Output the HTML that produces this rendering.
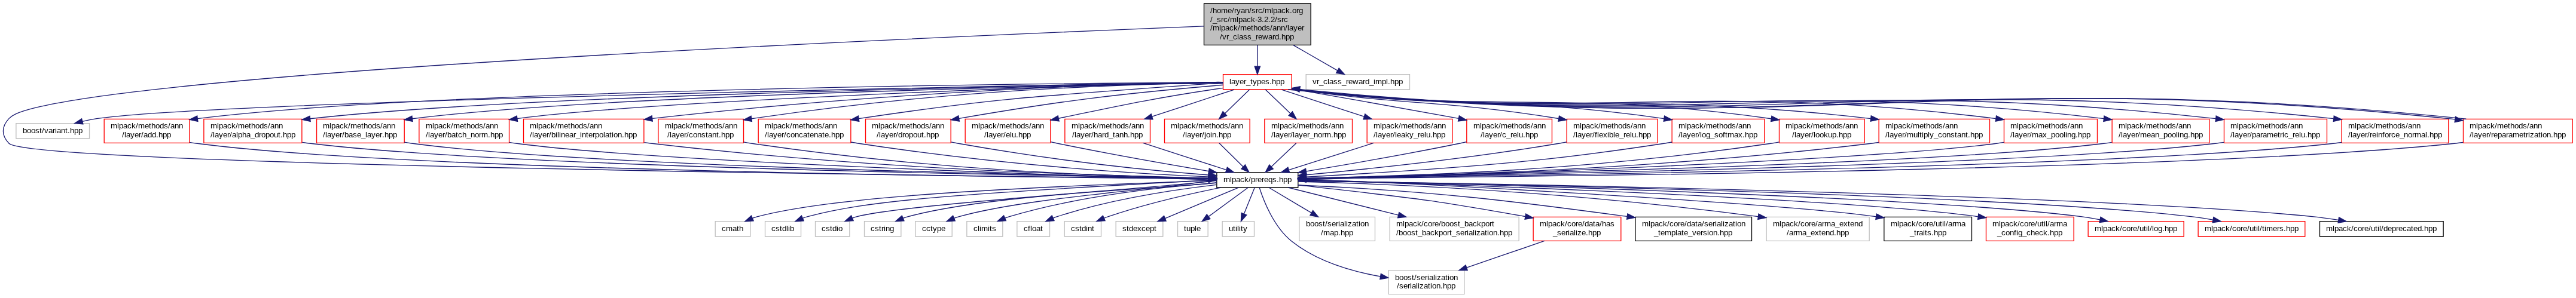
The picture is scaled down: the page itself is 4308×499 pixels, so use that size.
<!DOCTYPE html>
<html><head><meta charset="utf-8"><title>vr_class_reward.hpp include graph</title>
<style>
html,body{margin:0;padding:0;background:#fff;width:4308px;height:499px;overflow:hidden}
svg{display:block;position:absolute;left:0;top:0;will-change:transform}
text{font-family:"Liberation Sans",sans-serif;font-size:10px;fill:#000}
</style></head><body>
<svg width="4307.5" height="498.667" viewBox="0.00 0.00 3230.63 374.00">
<g transform="scale(1 1) rotate(0) translate(4 370)">
<polygon fill="white" stroke="transparent" points="-4,4 -4,-370 3226.63,-370 3226.63,4 -4,4"/>
<polygon fill="#bfbfbf" stroke="black" points="1506.13,-313.5 1506.13,-365.5 1640.13,-365.5 1640.13,-313.5 1506.13,-313.5"/>
<text x="1514.000 1517.000 1522.250 1527.500 1535.750 1541.000 1544.000 1547.000 1552.250 1557.500 1562.750 1565.750 1571.000 1574.000 1579.250 1582.250 1590.500 1592.750 1598.000 1603.250 1608.500 1613.750 1616.750 1622.000 1625.000" y="-353.50">/home/ryan/src/mlpack.org</text>
<text x="1514.000 1517.000 1522.250 1527.500 1530.500 1535.750 1538.750 1547.000 1549.250 1554.500 1559.750 1565.000 1570.250 1573.250 1578.500 1581.500 1586.750 1589.750 1595.000 1598.000 1603.250 1606.250" y="-342.25">/_src/mlpack-3.2.2/src</text>
<text x="1514.000 1517.000 1525.250 1527.500 1532.750 1538.000 1543.250 1548.500 1551.500 1559.750 1565.000 1568.000 1573.250 1578.500 1583.750 1589.000 1592.000 1597.250 1602.500 1607.750 1610.750 1613.000 1618.250 1623.500 1628.750" y="-331.75">/mlpack/methods/ann/layer</text>
<text x="1526.000 1529.000 1534.250 1537.250 1542.500 1547.750 1550.000 1555.250 1560.500 1565.750 1571.000 1574.000 1579.250 1586.750 1592.000 1595.000 1600.250 1603.250 1608.500 1613.750" y="-320.50">/vr_class_reward.hpp</text>
<polygon fill="white" stroke="black" points="1522.13,-134.5 1522.13,-153.5 1624.13,-153.5 1624.13,-134.5 1522.13,-134.5"/>
<text x="1530.500 1538.750 1541.000 1546.250 1551.500 1556.750 1562.000 1565.000 1570.250 1573.250 1578.500 1581.500 1586.750 1592.000 1597.250 1600.250 1605.500 1610.750" y="-141.25">mlpack/prereqs.hpp</text>
<path fill="none" stroke="midnightblue" d="M1505.96,-337.13C48.9,-277.84 15.43,-229.95 7.13,-221 -2.24,-210.9 -2.47,-199.88 7.13,-190 33.81,-162.54 1225.58,-148.57 1511.8,-145.6"/>
<polygon fill="midnightblue" stroke="midnightblue" points="1512.03,-149.1 1521.99,-145.5 1511.96,-142.1 1512.03,-149.1"/>
<polygon fill="white" stroke="red" points="1530.13,-257.5 1530.13,-276.5 1616.13,-276.5 1616.13,-257.5 1530.13,-257.5"/>
<text x="1538.000 1540.250 1545.500 1550.750 1556.000 1559.000 1564.250 1567.250 1572.500 1577.750 1583.000 1588.250 1591.250 1596.500 1601.750" y="-264.25">layer_types.hpp</text>
<path fill="none" stroke="midnightblue" d="M1573.13,-313.45C1573.13,-304.73 1573.13,-295.1 1573.13,-286.96"/>
<polygon fill="midnightblue" stroke="midnightblue" points="1576.63,-286.7 1573.13,-276.7 1569.63,-286.7 1576.63,-286.7"/>
<polygon fill="white" stroke="#bfbfbf" points="1634.13,-257.5 1634.13,-276.5 1764.13,-276.5 1764.13,-257.5 1634.13,-257.5"/>
<text x="1642.250 1647.500 1650.500 1655.750 1661.000 1663.250 1668.500 1673.750 1679.000 1684.250 1687.250 1692.500 1700.000 1705.250 1708.250 1713.500 1718.750 1721.000 1729.250 1734.500 1736.750 1739.750 1745.000 1750.250" y="-264.25">vr_class_reward_impl.hpp</text>
<path fill="none" stroke="midnightblue" d="M1617.91,-313.45C1636.68,-302.66 1657.95,-290.48 1673.59,-281.45"/>
<polygon fill="midnightblue" stroke="midnightblue" points="1675.37,-284.46 1682.39,-276.53 1671.95,-278.36 1675.37,-284.46"/>
<polygon fill="white" stroke="#bfbfbf" points="893.13,-73 893.13,-92 937.13,-92 937.13,-73 893.13,-73"/>
<text x="901.250 906.500 914.750 920.000 923.000" y="-79.75">cmath</text>
<path fill="none" stroke="midnightblue" d="M1522.10,-143.39C1181.30,-131.78 1025.21,-118.77 946.13,-98.00 944.15,-97.48 942.13,-96.84 940.14,-96.12"/>
<polygon fill="midnightblue" stroke="midnightblue" points="941.06,-92.71 930.48,-92.03 938.33,-99.16 941.06,-92.71"/>
<polygon fill="white" stroke="#bfbfbf" points="955.63,-73 955.63,-92 1000.63,-92 1000.63,-73 955.63,-73"/>
<text x="963.500 968.750 974.000 977.000 982.250 984.500 986.750" y="-79.75">cstdlib</text>
<path fill="none" stroke="midnightblue" d="M1522.10,-144.25C1174.21,-125.39 1084.55,-117.81 1009.13,-98.00 1007.15,-97.48 1005.14,-96.83 1003.14,-96.10"/>
<polygon fill="midnightblue" stroke="midnightblue" points="1004.06,-92.69 993.49,-92.01 1001.33,-99.14 1004.06,-92.69"/>
<polygon fill="white" stroke="#bfbfbf" points="1018.63,-73 1018.63,-92 1061.63,-92 1061.63,-73 1018.63,-73"/>
<text x="1026.500 1031.750 1037.000 1040.000 1045.250 1047.500" y="-79.75">cstdio</text>
<path fill="none" stroke="midnightblue" d="M1522.10,-143.10C1448.99,-133.85 1129.48,-113.64 1071.13,-98.00 1069.19,-97.48 1067.23,-96.84 1065.28,-96.13"/>
<polygon fill="midnightblue" stroke="midnightblue" points="1066.39,-92.8 1055.82,-92.13 1063.66,-99.25 1066.39,-92.8"/>
<polygon fill="white" stroke="#bfbfbf" points="1080.13,-73 1080.13,-92 1126.13,-92 1126.13,-73 1080.13,-73"/>
<text x="1088.000 1093.250 1098.500 1101.500 1104.500 1106.750 1112.000" y="-79.75">cstring</text>
<path fill="none" stroke="midnightblue" d="M1522.10,-140.80C1469.80,-133.27 1244.31,-127.45 1135.13,-98.00 1132.98,-97.42 1130.79,-96.71 1128.61,-95.91"/>
<polygon fill="midnightblue" stroke="midnightblue" points="1129.94,-92.68 1119.36,-92.08 1127.26,-99.14 1129.94,-92.68"/>
<polygon fill="white" stroke="#bfbfbf" points="1144.13,-73 1144.13,-92 1190.13,-92 1190.13,-73 1144.13,-73"/>
<text x="1152.500 1157.750 1163.000 1166.000 1171.250 1176.500" y="-79.75">cctype</text>
<path fill="none" stroke="midnightblue" d="M1522.10,-144.25C1462.13,-132.70 1288.08,-122.82 1199.13,-98.00 1196.98,-97.40 1194.79,-96.67 1192.62,-95.87"/>
<polygon fill="midnightblue" stroke="midnightblue" points="1193.95,-92.64 1183.38,-92.02 1191.26,-99.1 1193.95,-92.64"/>
<polygon fill="white" stroke="#bfbfbf" points="1208.63,-73 1208.63,-92 1253.63,-92 1253.63,-73 1208.63,-73"/>
<text x="1217.000 1222.250 1224.500 1226.750 1235.000 1237.250 1240.250" y="-79.75">climits</text>
<path fill="none" stroke="midnightblue" d="M1522.05,-140.21C1459.61,-135.76 1351.25,-124.65 1262.13,-98 1260.25,-97.44 1258.34,-96.78 1256.44,-96.06"/>
<polygon fill="midnightblue" stroke="midnightblue" points="1257.76,-92.82 1247.19,-92.1 1255,-99.25 1257.76,-92.82"/>
<polygon fill="white" stroke="#bfbfbf" points="1271.63,-73 1271.63,-92 1312.63,-92 1312.63,-73 1271.63,-73"/>
<text x="1280.000 1285.250 1288.250 1290.500 1295.750 1301.000" y="-79.75">cfloat</text>
<path fill="none" stroke="midnightblue" d="M1521.65,-137.93C1470.2,-131.9 1389.29,-119.8 1322.13,-98 1320.46,-97.46 1318.77,-96.84 1317.09,-96.18"/>
<polygon fill="midnightblue" stroke="midnightblue" points="1318.24,-92.86 1307.68,-92.01 1315.4,-99.26 1318.24,-92.86"/>
<polygon fill="white" stroke="#bfbfbf" points="1331.13,-73 1331.13,-92 1377.13,-92 1377.13,-73 1331.13,-73"/>
<text x="1339.250 1344.500 1349.750 1352.750 1358.000 1360.250 1365.500" y="-79.75">cstdint</text>
<path fill="none" stroke="midnightblue" d="M1527.09,-134.46C1488.81,-126.75 1433.19,-114.16 1386.13,-98 1384.46,-97.43 1382.77,-96.8 1381.07,-96.14"/>
<polygon fill="midnightblue" stroke="midnightblue" points="1382.07,-92.76 1371.49,-92.09 1379.34,-99.21 1382.07,-92.76"/>
<polygon fill="white" stroke="#bfbfbf" points="1395.63,-73 1395.63,-92 1454.63,-92 1454.63,-73 1395.63,-73"/>
<text x="1403.750 1409.000 1412.000 1417.250 1422.500 1427.750 1433.000 1438.250 1443.500" y="-79.75">stdexcept</text>
<path fill="none" stroke="midnightblue" d="M1549.42,-134.48C1518.80,-121.60 1488.17,-108.73 1457.55,-95.85"/>
<polygon fill="midnightblue" stroke="midnightblue" points="1458.58,-92.49 1447.99,-92.01 1455.97,-98.99 1458.58,-92.49"/>
<polygon fill="white" stroke="#bfbfbf" points="1473.13,-73 1473.13,-92 1511.13,-92 1511.13,-73 1473.13,-73"/>
<text x="1481.000 1484.000 1489.250 1494.500 1496.750" y="-79.75">tuple</text>
<path fill="none" stroke="midnightblue" d="M1561.52,-134.48C1548.65,-125.02 1527.65,-109.6 1512.12,-98.19"/>
<polygon fill="midnightblue" stroke="midnightblue" points="1513.84,-95.11 1503.71,-92.01 1509.7,-100.75 1513.84,-95.11"/>
<polygon fill="white" stroke="#bfbfbf" points="1529.13,-73 1529.13,-92 1569.13,-92 1569.13,-73 1529.13,-73"/>
<text x="1537.250 1542.500 1545.500 1547.750 1550.000 1552.250 1555.250" y="-79.75">utility</text>
<path fill="none" stroke="midnightblue" d="M1569.69,-134.48C1566.23,-125.9 1560.8,-112.43 1556.38,-101.48"/>
<polygon fill="midnightblue" stroke="midnightblue" points="1559.55,-99.97 1552.56,-92.01 1553.06,-102.59 1559.55,-99.97"/>
<polygon fill="white" stroke="#bfbfbf" points="1737.63,-0.5 1737.63,-30.5 1832.63,-30.5 1832.63,-0.5 1737.63,-0.5"/>
<text x="1745.750 1751.000 1756.250 1761.500 1766.750 1769.750 1772.750 1778.000 1783.250 1786.250 1788.500 1793.750 1796.000 1798.250 1803.500 1808.750 1811.750 1814.000 1819.250" y="-18.25">boost/serialization</text>
<text x="1748.000 1751.000 1756.250 1761.500 1764.500 1766.750 1772.000 1774.250 1776.500 1781.750 1787.000 1790.000 1792.250 1797.500 1802.750 1805.750 1811.000 1816.250" y="-7.75">/serialization.hpp</text>
<path fill="none" stroke="midnightblue" d="M1575.66,-134.28C1580.7,-118.47 1593.49,-85.05 1616.13,-67 1647.84,-41.72 1691.96,-29.08 1727.17,-22.77"/>
<polygon fill="midnightblue" stroke="midnightblue" points="1728.03,-26.17 1737.32,-21.08 1726.88,-19.27 1728.03,-26.17"/>
<polygon fill="white" stroke="#bfbfbf" points="1625.63,-67.5 1625.63,-97.5 1720.63,-97.5 1720.63,-67.5 1625.63,-67.5"/>
<text x="1634.000 1639.250 1644.500 1649.750 1655.000 1658.000 1661.000 1666.250 1671.500 1674.500 1676.750 1682.000 1684.250 1686.500 1691.750 1697.000 1700.000 1702.250 1707.500" y="-85.75">boost/serialization</text>
<text x="1652.750 1655.750 1664.000 1669.250 1674.500 1677.500 1682.750 1688.000" y="-74.50">/map.hpp</text>
<path fill="none" stroke="midnightblue" d="M1587.46,-134.48C1601.25,-126.27 1622.61,-113.56 1640.55,-102.88"/>
<polygon fill="midnightblue" stroke="midnightblue" points="1642.76,-105.64 1649.56,-97.52 1639.18,-99.63 1642.76,-105.64"/>
<polygon fill="white" stroke="#bfbfbf" points="1739.13,-67.5 1739.13,-97.5 1901.13,-97.5 1901.13,-67.5 1739.13,-67.5"/>
<text x="1747.250 1755.500 1757.750 1763.000 1768.250 1773.500 1778.750 1781.750 1787.000 1792.250 1795.250 1800.500 1803.500 1808.750 1814.000 1819.250 1824.500 1827.500 1832.750 1838.000 1843.250 1848.500 1853.750 1859.000 1864.250 1867.250" y="-85.75">mlpack/core/boost_backport</text>
<text x="1747.250 1750.250 1755.500 1760.750 1766.000 1771.250 1774.250 1779.500 1784.750 1790.000 1795.250 1800.500 1805.750 1811.000 1814.000 1817.000 1822.250 1827.500 1832.750 1835.750 1838.000 1843.250 1845.500 1847.750 1853.000 1858.250 1861.250 1863.500 1868.750 1874.000 1877.000 1882.250 1887.500" y="-74.50">/boost_backport_serialization.hpp</text>
<path fill="none" stroke="midnightblue" d="M1611.73,-134.50C1657.73,-122.98 1703.73,-111.45 1749.74,-99.93"/>
<polygon fill="midnightblue" stroke="midnightblue" points="1750.84,-103.27 1759.75,-97.52 1749.19,-96.46 1750.84,-103.27"/>
<polygon fill="white" stroke="red" points="1919.13,-67.5 1919.13,-97.5 2029.13,-97.5 2029.13,-67.5 1919.13,-67.5"/>
<text x="1927.250 1935.500 1937.750 1943.000 1948.250 1953.500 1958.750 1961.750 1967.000 1972.250 1975.250 1980.500 1983.500 1988.750 1994.000 1997.000 2002.250 2005.250 2010.500 2015.750" y="-85.75">mlpack/core/data/has</text>
<text x="1943.750 1949.000 1954.250 1959.500 1962.500 1964.750 1970.000 1972.250 1974.500 1979.750 1985.000 1988.000 1993.250 1998.500" y="-74.50">_serialize.hpp</text>
<path fill="none" stroke="midnightblue" d="M1624.25,-137.53C1789.73,-119.21 1798.84,-117.56 1909.05,-98.10"/>
<polygon fill="midnightblue" stroke="midnightblue" points="1909.81,-101.52 1919.04,-96.31 1908.58,-94.62 1909.81,-101.52"/>
<polygon fill="white" stroke="black" points="2047.13,-67.5 2047.13,-97.5 2193.13,-97.5 2193.13,-67.5 2047.13,-67.5"/>
<text x="2055.500 2063.750 2066.000 2071.250 2076.500 2081.750 2087.000 2090.000 2095.250 2100.500 2103.500 2108.750 2111.750 2117.000 2122.250 2125.250 2130.500 2133.500 2138.750 2144.000 2147.000 2149.250 2154.500 2156.750 2159.000 2164.250 2169.500 2172.500 2174.750 2180.000" y="-85.75">mlpack/core/data/serialization</text>
<text x="2070.500 2075.750 2078.750 2084.000 2092.250 2097.500 2099.750 2105.000 2108.000 2113.250 2118.500 2123.750 2129.000 2132.000 2137.250 2139.500 2144.750 2150.000 2153.000 2158.250 2163.500" y="-74.50">_template_version.hpp</text>
<path fill="none" stroke="midnightblue" d="M1624.25,-137.50C1802.64,-129.90 1909.58,-115.20 2036.61,-98.14"/>
<polygon fill="midnightblue" stroke="midnightblue" points="2037.42,-101.56 2046.86,-96.75 2036.48,-94.63 2037.42,-101.56"/>
<polygon fill="white" stroke="#bfbfbf" points="2211.63,-67.5 2211.63,-97.5 2340.63,-97.5 2340.63,-67.5 2211.63,-67.5"/>
<text x="2219.750 2228.000 2230.250 2235.500 2240.750 2246.000 2251.250 2254.250 2259.500 2264.750 2267.750 2273.000 2276.000 2281.250 2284.250 2292.500 2297.750 2303.000 2308.250 2313.500 2316.500 2321.750 2327.000" y="-85.75">mlpack/core/arma_extend</text>
<text x="2237.000 2240.000 2245.250 2248.250 2256.500 2261.750 2267.000 2272.250 2277.500 2280.500 2285.750 2291.000 2296.250 2299.250 2304.500 2309.750" y="-74.50">/arma_extend.hpp</text>
<path fill="none" stroke="midnightblue" d="M1624.25,-141.98C1798.55,-137.37 1995.27,-124.91 2201.10,-98.02"/>
<polygon fill="midnightblue" stroke="midnightblue" points="2201.78,-101.46 2211.23,-96.68 2200.86,-94.52 2201.78,-101.46"/>
<polygon fill="white" stroke="black" points="2359.13,-67.5 2359.13,-97.5 2469.13,-97.5 2469.13,-67.5 2359.13,-67.5"/>
<text x="2367.500 2375.750 2378.000 2383.250 2388.500 2393.750 2399.000 2402.000 2407.250 2412.500 2415.500 2420.750 2423.750 2429.000 2432.000 2434.250 2436.500 2439.500 2444.750 2447.750 2456.000" y="-85.75">mlpack/core/util/arma</text>
<text x="2391.500 2396.750 2399.750 2402.750 2408.000 2410.250 2413.250 2418.500 2421.500 2426.750 2432.000" y="-74.50">_traits.hpp</text>
<path fill="none" stroke="midnightblue" d="M1624.25,-143.51C1626.01,-148.58 2215.86,-116.41 2348.78,-98.02"/>
<polygon fill="midnightblue" stroke="midnightblue" points="2349.66,-101.43 2359.08,-96.58 2348.69,-94.5 2349.66,-101.43"/>
<polygon fill="white" stroke="red" points="2487.13,-67.5 2487.13,-97.5 2597.13,-97.5 2597.13,-67.5 2487.13,-67.5"/>
<text x="2495.000 2503.250 2505.500 2510.750 2516.000 2521.250 2526.500 2529.500 2534.750 2540.000 2543.000 2548.250 2551.250 2556.500 2559.500 2561.750 2564.000 2567.000 2572.250 2575.250 2583.500" y="-85.75">mlpack/core/util/arma</text>
<text x="2501.000 2506.250 2511.500 2516.750 2522.000 2525.000 2527.250 2532.500 2537.750 2543.000 2548.250 2553.500 2558.750 2564.000 2567.000 2572.250 2577.500" y="-74.50">_config_check.hpp</text>
<path fill="none" stroke="midnightblue" d="M1624.25,-143.51C1668.52,-143.73 2285.42,-123.73 2476.86,-98.00"/>
<polygon fill="midnightblue" stroke="midnightblue" points="2477.64,-101.42 2487.08,-96.61 2476.7,-94.49 2477.64,-101.42"/>
<polygon fill="white" stroke="red" points="2615.13,-73 2615.13,-92 2735.13,-92 2735.13,-73 2615.13,-73"/>
<text x="2623.250 2631.500 2633.750 2639.000 2644.250 2649.500 2654.750 2657.750 2663.000 2668.250 2671.250 2676.500 2679.500 2684.750 2687.750 2690.000 2692.250 2695.250 2697.500 2702.750 2708.000 2711.000 2716.250 2721.500" y="-79.75">mlpack/core/util/log.hpp</text>
<path fill="none" stroke="midnightblue" d="M1624.25,-143.50C1820.10,-140.03 2406.54,-123.17 2606.13,-98.00 2613.90,-97.02 2622.10,-95.63 2630.02,-94.08"/>
<polygon fill="midnightblue" stroke="midnightblue" points="2630.76,-97.5 2639.86,-92.07 2629.36,-90.65 2630.76,-97.5"/>
<polygon fill="white" stroke="red" points="2753.13,-73 2753.13,-92 2887.13,-92 2887.13,-73 2753.13,-73"/>
<text x="2761.250 2769.500 2771.750 2777.000 2782.250 2787.500 2792.750 2795.750 2801.000 2806.250 2809.250 2814.500 2817.500 2822.750 2825.750 2828.000 2830.250 2833.250 2836.250 2838.500 2846.750 2852.000 2855.000 2860.250 2863.250 2868.500 2873.750" y="-79.75">mlpack/core/util/timers.hpp</text>
<path fill="none" stroke="midnightblue" d="M1624.25,-142.72C1806.10,-140.64 2495.87,-126.39 2744.13,-98.00 2753.05,-96.98 2762.49,-95.51 2771.58,-93.89"/>
<polygon fill="midnightblue" stroke="midnightblue" points="2772.45,-97.28 2781.64,-92.01 2771.16,-90.4 2772.45,-97.28"/>
<polygon fill="white" stroke="black" points="2905.63,-73 2905.63,-92 3060.63,-92 3060.63,-73 2905.63,-73"/>
<text x="2913.500 2921.750 2924.000 2929.250 2934.500 2939.750 2945.000 2948.000 2953.250 2958.500 2961.500 2966.750 2969.750 2975.000 2978.000 2980.250 2982.500 2985.500 2990.750 2996.000 3001.250 3004.250 3009.500 3014.750 3020.000 3023.000 3028.250 3033.500 3036.500 3041.750 3047.000" y="-79.75">mlpack/core/util/deprecated.hpp</text>
<path fill="none" stroke="midnightblue" d="M1624.25,-142.67C1815.19,-140.70 2610.12,-126.55 2896.13,-98.00 2906.75,-96.94 2918.04,-95.38 2928.85,-93.67"/>
<polygon fill="midnightblue" stroke="midnightblue" points="2929.72,-97.08 2939.02,-92 2928.59,-90.17 2929.72,-97.08"/>
<path fill="none" stroke="midnightblue" d="M1933.12,-67.4C1904.51,-57.56 1866.16,-44.37 1835.66,-33.88"/>
<polygon fill="midnightblue" stroke="midnightblue" points="1836.65,-30.52 1826.06,-30.58 1834.38,-37.14 1836.65,-30.52"/>
<polygon fill="white" stroke="#bfbfbf" points="16.13,-196 16.13,-215 108.13,-215 108.13,-196 16.13,-196"/>
<text x="24.500 29.750 35.000 40.250 45.500 48.500 51.500 56.750 62.000 65.000 67.250 72.500 77.750 80.750 83.750 89.000 94.250" y="-202.75">boost/variant.hpp</text>
<path fill="none" stroke="midnightblue" d="M1530.12,-266.68C1523.67,-267.63 281.89,-245.06 117.13,-221.00 111.31,-220.15 105.22,-218.92 99.30,-217.51"/>
<polygon fill="midnightblue" stroke="midnightblue" points="100.13,-214.12 89.57,-215.04 98.4,-220.9 100.13,-214.12"/>
<polygon fill="white" stroke="red" points="126.63,-190.5 126.63,-220.5 233.63,-220.5 233.63,-190.5 126.63,-190.5"/>
<text x="134.750 143.000 145.250 150.500 155.750 161.000 166.250 169.250 177.500 182.750 185.750 191.000 196.250 201.500 206.750 209.750 215.000 220.250" y="-208.75">mlpack/methods/ann</text>
<text x="149.000 152.000 154.250 159.500 164.750 170.000 173.000 176.000 181.250 186.500 191.750 194.750 200.000 205.250" y="-197.50">/layer/add.hpp</text>
<path fill="none" stroke="midnightblue" d="M1530.12,-266.67C1285.90,-265.20 534.65,-257.18 243.77,-221.01"/>
<polygon fill="midnightblue" stroke="midnightblue" points="244.14,-217.53 233.78,-219.73 243.25,-224.47 244.14,-217.53"/>
<polygon fill="white" stroke="red" points="251.63,-190.5 251.63,-220.5 374.63,-220.5 374.63,-190.5 251.63,-190.5"/>
<text x="260.000 268.250 270.500 275.750 281.000 286.250 291.500 294.500 302.750 308.000 311.000 316.250 321.500 326.750 332.000 335.000 340.250 345.500" y="-208.75">mlpack/methods/ann</text>
<text x="260.000 263.000 265.250 270.500 275.750 281.000 284.000 287.000 292.250 294.500 299.750 305.000 310.250 315.500 320.750 323.750 329.000 334.250 339.500 344.750 347.750 350.750 356.000 361.250" y="-197.50">/layer/alpha_dropout.hpp</text>
<path fill="none" stroke="midnightblue" d="M1530.12,-266.69C1199.97,-260.33 637.09,-249.36 385.01,-220.92"/>
<polygon fill="midnightblue" stroke="midnightblue" points="385.33,-217.44 374.99,-219.75 384.51,-224.39 385.33,-217.44"/>
<polygon fill="white" stroke="red" points="393.13,-190.5 393.13,-220.5 503.13,-220.5 503.13,-190.5 393.13,-190.5"/>
<text x="401.000 409.250 411.500 416.750 422.000 427.250 432.500 435.500 443.750 449.000 452.000 457.250 462.500 467.750 473.000 476.000 481.250 486.500" y="-208.75">mlpack/methods/ann</text>
<text x="401.000 404.000 406.250 411.500 416.750 422.000 425.000 428.000 433.250 438.500 443.750 449.000 454.250 456.500 461.750 467.000 472.250 475.250 478.250 483.500 488.750" y="-197.50">/layer/base_layer.hpp</text>
<path fill="none" stroke="midnightblue" d="M1530.12,-266.68C1214.83,-259.36 736.50,-248.67 513.37,-220.95"/>
<polygon fill="midnightblue" stroke="midnightblue" points="513.54,-217.44 503.17,-219.63 512.64,-224.38 513.54,-217.44"/>
<polygon fill="white" stroke="red" points="521.63,-190.5 521.63,-220.5 634.63,-220.5 634.63,-190.5 521.63,-190.5"/>
<text x="530.000 538.250 540.500 545.750 551.000 556.250 561.500 564.500 572.750 578.000 581.000 586.250 591.500 596.750 602.000 605.000 610.250 615.500" y="-208.75">mlpack/methods/ann</text>
<text x="530.000 533.000 535.250 540.500 545.750 551.000 554.000 557.000 562.250 567.500 570.500 575.750 581.000 586.250 591.500 596.750 599.750 608.000 611.000 616.250 621.500" y="-197.50">/layer/batch_norm.hpp</text>
<path fill="none" stroke="midnightblue" d="M1530.12,-266.66C1525.70,-268.97 840.37,-246.92 644.69,-221.06"/>
<polygon fill="midnightblue" stroke="midnightblue" points="645.12,-217.58 634.75,-219.73 644.19,-224.52 645.12,-217.58"/>
<polygon fill="white" stroke="red" points="652.63,-190.5 652.63,-220.5 803.63,-220.5 803.63,-190.5 652.63,-190.5"/>
<text x="660.500 668.750 671.000 676.250 681.500 686.750 692.000 695.000 703.250 708.500 711.500 716.750 722.000 727.250 732.500 735.500 740.750 746.000" y="-208.75">mlpack/methods/ann</text>
<text x="660.500 663.500 665.750 671.000 676.250 681.500 684.500 687.500 692.750 695.000 697.250 699.500 704.750 710.000 715.250 718.250 723.500 725.750 731.000 734.000 739.250 742.250 747.500 752.750 755.000 760.250 763.250 765.500 770.750 776.000 779.000 784.250 789.500" y="-197.50">/layer/bilinear_interpolation.hpp</text>
<path fill="none" stroke="midnightblue" d="M1530.12,-264.80C1387.13,-266.83 1082.94,-251.62 814.36,-221.18"/>
<polygon fill="midnightblue" stroke="midnightblue" points="814.41,-217.66 804.08,-220 813.62,-224.62 814.41,-217.66"/>
<polygon fill="white" stroke="red" points="821.63,-190.5 821.63,-220.5 928.63,-220.5 928.63,-190.5 821.63,-190.5"/>
<text x="830.000 838.250 840.500 845.750 851.000 856.250 861.500 864.500 872.750 878.000 881.000 886.250 891.500 896.750 902.000 905.000 910.250 915.500" y="-208.75">mlpack/methods/ann</text>
<text x="833.000 836.000 838.250 843.500 848.750 854.000 857.000 860.000 865.250 870.500 875.750 881.000 884.000 889.250 894.500 897.500 900.500 905.750 911.000" y="-197.50">/layer/constant.hpp</text>
<path fill="none" stroke="midnightblue" d="M1530.12,-266.65C1324.60,-261.72 1156.35,-252.77 938.78,-220.92"/>
<polygon fill="midnightblue" stroke="midnightblue" points="939.04,-217.42 928.64,-219.41 938.02,-224.34 939.04,-217.42"/>
<polygon fill="white" stroke="red" points="947.13,-190.5 947.13,-220.5 1063.13,-220.5 1063.13,-190.5 947.13,-190.5"/>
<text x="955.250 963.500 965.750 971.000 976.250 981.500 986.750 989.750 998.000 1003.250 1006.250 1011.500 1016.750 1022.000 1027.250 1030.250 1035.500 1040.750" y="-208.75">mlpack/methods/ann</text>
<text x="955.250 958.250 960.500 965.750 971.000 976.250 979.250 982.250 987.500 992.750 998.000 1003.250 1008.500 1011.500 1016.750 1022.000 1027.250 1030.250 1035.500 1038.500 1043.750 1049.000" y="-197.50">/layer/concatenate.hpp</text>
<path fill="none" stroke="midnightblue" d="M1530.12,-266.03C1267.13,-247.47 1228.24,-244.19 1073.05,-221.01"/>
<polygon fill="midnightblue" stroke="midnightblue" points="1073.56,-217.55 1063.15,-219.52 1072.52,-224.47 1073.56,-217.55"/>
<polygon fill="white" stroke="red" points="1081.63,-190.5 1081.63,-220.5 1188.63,-220.5 1188.63,-190.5 1081.63,-190.5"/>
<text x="1089.500 1097.750 1100.000 1105.250 1110.500 1115.750 1121.000 1124.000 1132.250 1137.500 1140.500 1145.750 1151.000 1156.250 1161.500 1164.500 1169.750 1175.000" y="-208.75">mlpack/methods/ann</text>
<text x="1095.500 1098.500 1100.750 1106.000 1111.250 1116.500 1119.500 1122.500 1127.750 1130.750 1136.000 1141.250 1146.500 1151.750 1154.750 1157.750 1163.000 1168.250" y="-197.50">/layer/dropout.hpp</text>
<path fill="none" stroke="midnightblue" d="M1530.12,-263.32C1397.59,-252.11 1327.94,-243.46 1198.98,-221.22"/>
<polygon fill="midnightblue" stroke="midnightblue" points="1199.28,-217.71 1188.82,-219.44 1198.07,-224.61 1199.28,-217.71"/>
<polygon fill="white" stroke="red" points="1206.63,-190.5 1206.63,-220.5 1313.63,-220.5 1313.63,-190.5 1206.63,-190.5"/>
<text x="1214.750 1223.000 1225.250 1230.500 1235.750 1241.000 1246.250 1249.250 1257.500 1262.750 1265.750 1271.000 1276.250 1281.500 1286.750 1289.750 1295.000 1300.250" y="-208.75">mlpack/methods/ann</text>
<text x="1230.500 1233.500 1235.750 1241.000 1246.250 1251.500 1254.500 1257.500 1262.750 1265.000 1270.250 1273.250 1278.500 1283.750" y="-197.50">/layer/elu.hpp</text>
<path fill="none" stroke="midnightblue" d="M1530.12,-259.51C1431.97,-245.32 1375.87,-231.92 1323.83,-221.30"/>
<polygon fill="midnightblue" stroke="midnightblue" points="1324.36,-217.83 1313.86,-219.25 1322.95,-224.69 1324.36,-217.83"/>
<polygon fill="white" stroke="red" points="1331.63,-190.5 1331.63,-220.5 1438.63,-220.5 1438.63,-190.5 1331.63,-190.5"/>
<text x="1340.000 1348.250 1350.500 1355.750 1361.000 1366.250 1371.500 1374.500 1382.750 1388.000 1391.000 1396.250 1401.500 1406.750 1412.000 1415.000 1420.250 1425.500" y="-208.75">mlpack/methods/ann</text>
<text x="1340.750 1343.750 1346.000 1351.250 1356.500 1361.750 1364.750 1367.750 1373.000 1378.250 1381.250 1386.500 1391.750 1394.750 1400.000 1405.250 1410.500 1413.500 1418.750 1424.000" y="-197.50">/layer/hard_tanh.hpp</text>
<path fill="none" stroke="midnightblue" d="M1543.94,-257.48C1517.50,-248.66 1474.68,-234.67 1441.01,-223.57"/>
<polygon fill="midnightblue" stroke="midnightblue" points="1441.98,-220.20 1431.39,-220.52 1439.86,-226.88 1441.98,-220.20"/>
<polygon fill="white" stroke="red" points="1456.63,-190.5 1456.63,-220.5 1563.63,-220.5 1563.63,-190.5 1456.63,-190.5"/>
<text x="1464.500 1472.750 1475.000 1480.250 1485.500 1490.750 1496.000 1499.000 1507.250 1512.500 1515.500 1520.750 1526.000 1531.250 1536.500 1539.500 1544.750 1550.000" y="-208.75">mlpack/methods/ann</text>
<text x="1479.500 1482.500 1484.750 1490.000 1495.250 1500.500 1503.500 1506.500 1508.750 1514.000 1516.250 1521.500 1524.500 1529.750 1535.000" y="-197.50">/layer/join.hpp</text>
<path fill="none" stroke="midnightblue" d="M1563.20,-257.48C1555.29,-249.72 1543.12,-237.94 1532.54,-227.66"/>
<polygon fill="midnightblue" stroke="midnightblue" points="1534.65,-224.84 1524.98,-220.52 1529.84,-229.93 1534.65,-224.84"/>
<polygon fill="white" stroke="red" points="1582.13,-190.5 1582.13,-220.5 1692.13,-220.5 1692.13,-190.5 1582.13,-190.5"/>
<text x="1590.500 1598.750 1601.000 1606.250 1611.500 1616.750 1622.000 1625.000 1633.250 1638.500 1641.500 1646.750 1652.000 1657.250 1662.500 1665.500 1670.750 1676.000" y="-208.75">mlpack/methods/ann</text>
<text x="1590.500 1593.500 1595.750 1601.000 1606.250 1611.500 1614.500 1617.500 1619.750 1625.000 1630.250 1635.500 1638.500 1643.750 1649.000 1654.250 1657.250 1665.500 1668.500 1673.750 1679.000" y="-197.50">/layer/layer_norm.hpp</text>
<path fill="none" stroke="midnightblue" d="M1583.20,-257.48C1591.32,-249.64 1603.85,-237.71 1614.69,-227.37"/>
<polygon fill="midnightblue" stroke="midnightblue" points="1617.1,-229.9 1622.05,-220.52 1612.34,-224.77 1617.1,-229.9"/>
<polygon fill="white" stroke="red" points="1710.63,-190.5 1710.63,-220.5 1817.63,-220.5 1817.63,-190.5 1710.63,-190.5"/>
<text x="1718.750 1727.000 1729.250 1734.500 1739.750 1745.000 1750.250 1753.250 1761.500 1766.750 1769.750 1775.000 1780.250 1785.500 1790.750 1793.750 1799.000 1804.250" y="-208.75">mlpack/methods/ann</text>
<text x="1718.750 1721.750 1724.000 1729.250 1734.500 1739.750 1742.750 1745.750 1748.000 1753.250 1758.500 1763.750 1769.000 1774.250 1777.250 1782.500 1784.750 1790.000 1793.000 1798.250 1803.500" y="-197.50">/layer/leaky_relu.hpp</text>
<path fill="none" stroke="midnightblue" d="M1603.59,-257.48C1630.01,-248.66 1673.08,-234.67 1706.83,-223.57"/>
<polygon fill="midnightblue" stroke="midnightblue" points="1708.11,-226.84 1716.61,-220.52 1706.03,-220.16 1708.11,-226.84"/>
<polygon fill="white" stroke="red" points="1835.63,-190.5 1835.63,-220.5 1942.63,-220.5 1942.63,-190.5 1835.63,-190.5"/>
<text x="1844.000 1852.250 1854.500 1859.750 1865.000 1870.250 1875.500 1878.500 1886.750 1892.000 1895.000 1900.250 1905.500 1910.750 1916.000 1919.000 1924.250 1929.500" y="-208.75">mlpack/methods/ann</text>
<text x="1853.000 1856.000 1858.250 1863.500 1868.750 1874.000 1877.000 1880.000 1885.250 1890.500 1893.500 1898.750 1901.000 1906.250 1909.250 1914.500 1919.750" y="-197.50">/layer/c_relu.hpp</text>
<path fill="none" stroke="midnightblue" d="M1616.22,-258.5C1677.21,-247.86 1785.09,-228.98 1825.51,-221.21"/>
<polygon fill="midnightblue" stroke="midnightblue" points="1826.27,-224.63 1835.4,-219.25 1824.91,-217.76 1826.27,-224.63"/>
<polygon fill="white" stroke="red" points="1961.13,-190.5 1961.13,-220.5 2075.13,-220.5 2075.13,-190.5 1961.13,-190.5"/>
<text x="1969.250 1977.500 1979.750 1985.000 1990.250 1995.500 2000.750 2003.750 2012.000 2017.250 2020.250 2025.500 2030.750 2036.000 2041.250 2044.250 2049.500 2054.750" y="-208.75">mlpack/methods/ann</text>
<text x="1969.250 1972.250 1974.500 1979.750 1985.000 1990.250 1993.250 1996.250 1999.250 2001.500 2006.750 2012.000 2014.250 2019.500 2021.750 2027.000 2032.250 2035.250 2040.500 2042.750 2048.000 2051.000 2056.250 2061.500" y="-197.50">/layer/flexible_relu.hpp</text>
<path fill="none" stroke="midnightblue" d="M1616.23,-258.33C1619.24,-257.86 1622.23,-257.41 1625.13,-257 1766.65,-236.98 1806.1,-244.37 1950.82,-221.1"/>
<polygon fill="midnightblue" stroke="midnightblue" points="1951.66,-224.51 1960.96,-219.45 1950.53,-217.6 1951.66,-224.51"/>
<polygon fill="white" stroke="red" points="2093.13,-190.5 2093.13,-220.5 2209.13,-220.5 2209.13,-190.5 2093.13,-190.5"/>
<text x="2101.250 2109.500 2111.750 2117.000 2122.250 2127.500 2132.750 2135.750 2144.000 2149.250 2152.250 2157.500 2162.750 2168.000 2173.250 2176.250 2181.500 2186.750" y="-208.75">mlpack/methods/ann</text>
<text x="2101.250 2104.250 2106.500 2111.750 2117.000 2122.250 2125.250 2128.250 2130.500 2135.750 2141.000 2146.250 2151.500 2156.750 2159.750 2162.750 2171.000 2176.250 2181.500 2184.500 2189.750 2195.000" y="-197.50">/layer/log_softmax.hpp</text>
<path fill="none" stroke="midnightblue" d="M1616.21,-258.23C1619.23,-257.78 1622.22,-257.37 1625.13,-257 1824.89,-231.93 1879.91,-250.1 2083.01,-221.02"/>
<polygon fill="midnightblue" stroke="midnightblue" points="2083.72,-224.46 2093.11,-219.56 2082.71,-217.53 2083.72,-224.46"/>
<polygon fill="white" stroke="red" points="2227.63,-190.5 2227.63,-220.5 2334.63,-220.5 2334.63,-190.5 2227.63,-190.5"/>
<text x="2235.500 2243.750 2246.000 2251.250 2256.500 2261.750 2267.000 2270.000 2278.250 2283.500 2286.500 2291.750 2297.000 2302.250 2307.500 2310.500 2315.750 2321.000" y="-208.75">mlpack/methods/ann</text>
<text x="2243.750 2246.750 2249.000 2254.250 2259.500 2264.750 2267.750 2270.750 2273.000 2278.250 2283.500 2288.750 2294.000 2299.250 2302.250 2307.500 2312.750" y="-197.50">/layer/lookup.hpp</text>
<path fill="none" stroke="midnightblue" d="M1616.21,-258.17C1619.22,-257.73 1622.22,-257.34 1625.13,-257 1884.07,-226.83 1955.01,-257.93 2217.41,-220.91"/>
<polygon fill="midnightblue" stroke="midnightblue" points="2218.22,-224.33 2227.63,-219.45 2217.23,-217.4 2218.22,-224.33"/>
<polygon fill="white" stroke="red" points="2352.63,-190.5 2352.63,-220.5 2491.63,-220.5 2491.63,-190.5 2352.63,-190.5"/>
<text x="2360.750 2369.000 2371.250 2376.500 2381.750 2387.000 2392.250 2395.250 2403.500 2408.750 2411.750 2417.000 2422.250 2427.500 2432.750 2435.750 2441.000 2446.250" y="-208.75">mlpack/methods/ann</text>
<text x="2360.750 2363.750 2366.000 2371.250 2376.500 2381.750 2384.750 2387.750 2396.000 2401.250 2403.500 2406.500 2408.750 2414.000 2416.250 2421.500 2426.750 2432.000 2437.250 2442.500 2447.750 2450.750 2456.000 2461.250 2464.250 2467.250 2472.500 2477.750" y="-197.50">/layer/multiply_constant.hpp</text>
<path fill="none" stroke="midnightblue" d="M1616.2,-258.13C1619.22,-257.71 1622.22,-257.32 1625.13,-257 1939.87,-222.01 2024.63,-257.58 2342.5,-221.09"/>
<polygon fill="midnightblue" stroke="midnightblue" points="2342.93,-224.56 2352.46,-219.93 2342.12,-217.61 2342.93,-224.56"/>
<polygon fill="white" stroke="red" points="2509.63,-190.5 2509.63,-220.5 2626.63,-220.5 2626.63,-190.5 2509.63,-190.5"/>
<text x="2517.500 2525.750 2528.000 2533.250 2538.500 2543.750 2549.000 2552.000 2560.250 2565.500 2568.500 2573.750 2579.000 2584.250 2589.500 2592.500 2597.750 2603.000" y="-208.75">mlpack/methods/ann</text>
<text x="2517.500 2520.500 2522.750 2528.000 2533.250 2538.500 2541.500 2544.500 2552.750 2558.000 2563.250 2568.500 2573.750 2579.000 2584.250 2586.500 2588.750 2594.000 2599.250 2602.250 2607.500 2612.750" y="-197.50">/layer/max_pooling.hpp</text>
<path fill="none" stroke="midnightblue" d="M1616.2,-258.1C1619.21,-257.68 1622.21,-257.31 1625.13,-257 2009.28,-216.04 2112.85,-269.47 2499.35,-221.08"/>
<polygon fill="midnightblue" stroke="midnightblue" points="2499.92,-224.54 2509.4,-219.81 2499.04,-217.59 2499.92,-224.54"/>
<polygon fill="white" stroke="red" points="2645.13,-190.5 2645.13,-220.5 2767.13,-220.5 2767.13,-190.5 2645.13,-190.5"/>
<text x="2653.250 2661.500 2663.750 2669.000 2674.250 2679.500 2684.750 2687.750 2696.000 2701.250 2704.250 2709.500 2714.750 2720.000 2725.250 2728.250 2733.500 2738.750" y="-208.75">mlpack/methods/ann</text>
<text x="2653.250 2656.250 2658.500 2663.750 2669.000 2674.250 2677.250 2680.250 2688.500 2693.750 2699.000 2704.250 2709.500 2714.750 2720.000 2725.250 2727.500 2729.750 2735.000 2740.250 2743.250 2748.500 2753.750" y="-197.50">/layer/mean_pooling.hpp</text>
<path fill="none" stroke="midnightblue" d="M1616.2,-258.08C1619.21,-257.67 1622.21,-257.3 1625.13,-257 2069.07,-210.89 2188,-273.86 2634.82,-221.01"/>
<polygon fill="midnightblue" stroke="midnightblue" points="2635.25,-224.48 2644.77,-219.82 2634.42,-217.53 2635.25,-224.48"/>
<polygon fill="white" stroke="red" points="2785.63,-190.5 2785.63,-220.5 2914.63,-220.5 2914.63,-190.5 2785.63,-190.5"/>
<text x="2793.500 2801.750 2804.000 2809.250 2814.500 2819.750 2825.000 2828.000 2836.250 2841.500 2844.500 2849.750 2855.000 2860.250 2865.500 2868.500 2873.750 2879.000" y="-208.75">mlpack/methods/ann</text>
<text x="2793.500 2796.500 2798.750 2804.000 2809.250 2814.500 2817.500 2820.500 2825.750 2831.000 2834.000 2839.250 2847.500 2852.750 2855.750 2858.750 2861.000 2866.250 2871.500 2874.500 2879.750 2882.000 2887.250 2890.250 2895.500 2900.750" y="-197.50">/layer/parametric_relu.hpp</text>
<path fill="none" stroke="midnightblue" d="M1616.2,-258.07C1619.21,-257.66 1622.21,-257.3 1625.13,-257 2130.95,-205.57 2265.78,-277.44 2775.06,-220.97"/>
<polygon fill="midnightblue" stroke="midnightblue" points="2775.7,-224.42 2785.25,-219.83 2774.92,-217.47 2775.7,-224.42"/>
<polygon fill="white" stroke="red" points="2933.13,-190.5 2933.13,-220.5 3067.13,-220.5 3067.13,-190.5 2933.13,-190.5"/>
<text x="2941.250 2949.500 2951.750 2957.000 2962.250 2967.500 2972.750 2975.750 2984.000 2989.250 2992.250 2997.500 3002.750 3008.000 3013.250 3016.250 3021.500 3026.750" y="-208.75">mlpack/methods/ann</text>
<text x="2941.250 2944.250 2946.500 2951.750 2957.000 2962.250 2965.250 2968.250 2971.250 2976.500 2978.750 2984.000 2987.000 2992.250 2995.250 3000.500 3005.750 3011.000 3016.250 3021.500 3024.500 3032.750 3038.000 3040.250 3043.250 3048.500 3053.750" y="-197.50">/layer/reinforce_normal.hpp</text>
<path fill="none" stroke="midnightblue" d="M1616.19,-258.06C1619.21,-257.65 1622.21,-257.29 1625.13,-257 2196.46,-199.94 2348.17,-282.34 2922.87,-221"/>
<polygon fill="midnightblue" stroke="midnightblue" points="2923.51,-224.45 2933.08,-219.9 2922.76,-217.49 2923.51,-224.45"/>
<polygon fill="white" stroke="red" points="3085.63,-190.5 3085.63,-220.5 3222.63,-220.5 3222.63,-190.5 3085.63,-190.5"/>
<text x="3093.500 3101.750 3104.000 3109.250 3114.500 3119.750 3125.000 3128.000 3136.250 3141.500 3144.500 3149.750 3155.000 3160.250 3165.500 3168.500 3173.750 3179.000" y="-208.75">mlpack/methods/ann</text>
<text x="3093.500 3096.500 3098.750 3104.000 3109.250 3114.500 3117.500 3120.500 3123.500 3128.750 3134.000 3139.250 3142.250 3147.500 3155.750 3161.000 3164.000 3167.000 3169.250 3174.500 3179.750 3182.750 3185.000 3190.250 3195.500 3198.500 3203.750 3209.000" y="-197.50">/layer/reparametrization.hpp</text>
<path fill="none" stroke="midnightblue" d="M1611.7,-257.48C1613.19,-257.3 1614.67,-257.14 1616.13,-257 2258.12,-193.82 2425.55,-288.16 3067.13,-221 3069.8,-220.72 3072.51,-220.4 3075.25,-220.05"/>
<polygon fill="midnightblue" stroke="midnightblue" points="3075.86,-223.5 3085.27,-218.63 3074.88,-216.56 3075.86,-223.5"/>
<path fill="none" stroke="midnightblue" d="M233.78,-191.27C236.59,-190.79 239.39,-190.36 242.13,-190.00 505.47,-155.40 1275.02,-147.58 1511.99,-145.48"/>
<polygon fill="midnightblue" stroke="midnightblue" points="1512.07,-148.98 1522.04,-145.39 1512.01,-141.98 1512.07,-148.98"/>
<path fill="none" stroke="midnightblue" d="M374.99,-191.25C378.07,-190.78 381.13,-190.36 384.13,-190.00 638.29,-159.50 1314.92,-149.38 1511.64,-146.00"/>
<polygon fill="midnightblue" stroke="midnightblue" points="1511.98,-149.49 1521.91,-145.82 1511.86,-142.49 1511.98,-149.49"/>
<path fill="none" stroke="midnightblue" d="M503.17,-191.37C506.19,-190.85 509.19,-190.39 512.13,-190.00 736.19,-160.28 1319.36,-149.97 1511.73,-146.15"/>
<polygon fill="midnightblue" stroke="midnightblue" points="1511.91,-149.65 1521.84,-145.95 1511.77,-142.65 1511.91,-149.65"/>
<path fill="none" stroke="midnightblue" d="M634.75,-191.27C637.57,-190.80 640.38,-190.37 643.13,-190.00 841.58,-163.30 1511.60,-144.35 1511.60,-144.35"/>
<polygon fill="midnightblue" stroke="midnightblue" points="1511.92,-147.85 1521.94,-144.41 1511.96,-140.85 1511.92,-147.85"/>
<path fill="none" stroke="midnightblue" d="M804.08,-191.00C806.79,-190.64 809.48,-190.31 812.13,-190.00 1088.33,-157.69 1342.16,-150.57 1511.61,-146.31"/>
<polygon fill="midnightblue" stroke="midnightblue" points="1511.83,-149.8 1521.74,-146.06 1511.66,-142.8 1511.83,-149.8"/>
<path fill="none" stroke="midnightblue" d="M928.64,-191.59C931.84,-191.00 935.02,-190.46 938.13,-190.00 1185.43,-153.42 1391.24,-149.26 1511.55,-146.19"/>
<polygon fill="midnightblue" stroke="midnightblue" points="1511.89,-149.68 1521.8,-145.94 1511.72,-142.68 1511.89,-149.68"/>
<path fill="none" stroke="midnightblue" d="M1063.15,-191.48C1066.18,-190.95 1069.19,-190.45 1072.13,-190.00 1301.12,-154.95 1508.87,-148.22 1511.77,-148.06"/>
<polygon fill="midnightblue" stroke="midnightblue" points="1512.24,-151.54 1522.03,-147.5 1511.85,-144.55 1512.24,-151.54"/>
<path fill="none" stroke="midnightblue" d="M1188.82,-191.56C1191.63,-191.00 1194.41,-190.48 1197.13,-190.00 1369.67,-159.55 1498.78,-151.44 1511.92,-150.23"/>
<polygon fill="midnightblue" stroke="midnightblue" points="1512.44,-153.69 1522.09,-149.3 1511.81,-146.72 1512.44,-153.69"/>
<path fill="none" stroke="midnightblue" d="M1313.86,-191.75C1316.65,-191.15 1319.42,-190.56 1322.13,-190 1386.76,-176.66 1461.22,-163.6 1512.16,-155.01"/>
<polygon fill="midnightblue" stroke="midnightblue" points="1512.74,-158.46 1522.02,-153.36 1511.58,-151.56 1512.74,-158.46"/>
<path fill="none" stroke="midnightblue" d="M1429.68,-190.40C1461.40,-180.12 1504.14,-166.35 1533.92,-156.68"/>
<polygon fill="midnightblue" stroke="midnightblue" points="1535.27,-159.93 1543.75,-153.57 1533.16,-153.25 1535.27,-159.93"/>
<path fill="none" stroke="midnightblue" d="M1525.06,-190.40C1534.05,-181.49 1545.81,-169.95 1555.11,-160.74"/>
<polygon fill="midnightblue" stroke="midnightblue" points="1557.74,-163.07 1562.61,-153.66 1552.94,-157.98 1557.74,-163.07"/>
<path fill="none" stroke="midnightblue" d="M1621.96,-190.40C1612.62,-181.49 1600.47,-169.95 1590.81,-160.74"/>
<polygon fill="midnightblue" stroke="midnightblue" points="1592.90,-157.90 1583.19,-153.66 1588.13,-163.03 1592.90,-157.90"/>
<path fill="none" stroke="midnightblue" d="M1718.86,-190.40C1686.47,-180.07 1642.78,-166.23 1612.47,-156.56"/>
<polygon fill="midnightblue" stroke="midnightblue" points="1613.48,-153.20 1602.89,-153.57 1611.40,-159.89 1613.48,-153.20"/>
<path fill="none" stroke="midnightblue" d="M1835.4,-191.75C1832.61,-191.14 1829.84,-190.56 1827.13,-190 1761.53,-176.53 1685.91,-163.44 1634.35,-154.89"/>
<polygon fill="midnightblue" stroke="midnightblue" points="1634.8,-151.41 1624.37,-153.24 1633.66,-158.32 1634.8,-151.41"/>
<path fill="none" stroke="midnightblue" d="M1960.96,-191.58C1957.98,-191.02 1955.02,-190.49 1952.13,-190 1840.74,-171.2 1709.63,-157.48 1634.46,-150.42"/>
<polygon fill="midnightblue" stroke="midnightblue" points="1634.52,-146.91 1624.24,-149.46 1633.87,-153.88 1634.52,-146.91"/>
<path fill="none" stroke="midnightblue" d="M2093.11,-191.48C2090.08,-190.94 2087.07,-190.45 2084.13,-190.00 1983.80,-174.64 1891.21,-161.61 1634.27,-147.90"/>
<polygon fill="midnightblue" stroke="midnightblue" points="1634.32,-144.4 1624.15,-147.37 1633.95,-151.39 1634.32,-144.4"/>
<path fill="none" stroke="midnightblue" d="M2227.62,-191.58C2224.42,-191.00 2221.24,-190.46 2218.13,-190.00 1987.66,-155.91 1785.70,-149.69 1634.46,-146.09"/>
<polygon fill="midnightblue" stroke="midnightblue" points="1634.51,-142.59 1624.43,-145.86 1634.35,-149.59 1634.51,-142.59"/>
<path fill="none" stroke="midnightblue" d="M2352.45,-191.10C2349.65,-190.70 2346.86,-190.33 2344.13,-190.00 2067.99,-156.62 1796.39,-149.24 1634.52,-145.97"/>
<polygon fill="midnightblue" stroke="midnightblue" points="1634.37,-142.47 1624.3,-145.77 1634.23,-149.47 1634.37,-142.47"/>
<path fill="none" stroke="midnightblue" d="M2509.40,-191.22C2506.61,-190.77 2503.84,-190.36 2501.13,-190.00 2309.29,-164.52 1649.91,-144.45 1634.50,-144.50"/>
<polygon fill="midnightblue" stroke="midnightblue" points="1634.18,-141 1624.19,-144.54 1634.21,-148 1634.18,-141"/>
<path fill="none" stroke="midnightblue" d="M2644.76,-191.20C2641.85,-190.76 2638.96,-190.35 2636.13,-190.00 2410.26,-162.07 1803.59,-150.03 1634.29,-146.29"/>
<polygon fill="midnightblue" stroke="midnightblue" points="1634.25,-142.78 1624.18,-146.06 1634.1,-149.78 1634.25,-142.78"/>
<path fill="none" stroke="midnightblue" d="M2785.25,-191.19C2782.17,-190.75 2779.12,-190.35 2776.13,-190.00 2525.60,-160.67 1828.89,-149.47 1634.29,-146.02"/>
<polygon fill="midnightblue" stroke="midnightblue" points="1634.32,-142.52 1624.26,-145.85 1634.2,-149.52 1634.32,-142.52"/>
<path fill="none" stroke="midnightblue" d="M2933.08,-191.12C2930.06,-190.71 2927.07,-190.33 2924.13,-190.00 2640.60,-158.18 1852.78,-148.73 1634.37,-145.78"/>
<polygon fill="midnightblue" stroke="midnightblue" points="1634.27,-142.27 1624.23,-145.64 1634.18,-149.27 1634.27,-142.27"/>
<path fill="none" stroke="midnightblue" d="M3085.31,-191.11C3082.21,-190.70 3079.14,-190.32 3076.13,-190.00 2742.89,-154.57 1857.23,-147.85 1634.63,-145.58"/>
<polygon fill="midnightblue" stroke="midnightblue" points="1634.5,-142.08 1624.47,-145.48 1634.43,-149.08 1634.5,-142.08"/>
<path fill="none" stroke="midnightblue" d="M3089.27,-220.54C3087.88,-220.7 3086.5,-220.86 3085.13,-221 2443.55,-288.16 2276.12,-193.82 1634.13,-257 1631.62,-257.25 1629.04,-257.55 1626.44,-257.88"/>
<polygon fill="midnightblue" stroke="midnightblue" points="1625.71,-254.45 1616.3,-259.33 1626.7,-261.38 1625.71,-254.45"/>
</g>
</svg>
</body></html>
